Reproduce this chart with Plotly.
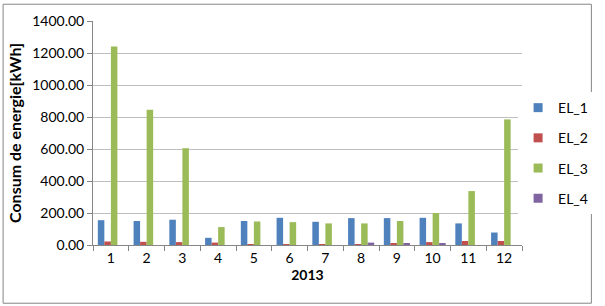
import plotly.graph_objects as go

months = [str(i) for i in range(1, 13)]
el_1 = [155, 150, 158, 45, 150, 170, 145, 168, 168, 170, 135, 78]
el_2 = [22, 20, 18, 15, 5, 5, 2, 3, 12, 18, 25, 25]
el_3 = [1240, 845, 605, 112, 147, 143, 135, 135, 150, 200, 337, 785]
el_4 = [0, 0, 0, 0, 0, 0, 0, 15, 10, 8, 0, 0]
series = [("EL_1", el_1, "#4F81BD"), ("EL_2", el_2, "#C0504D"),
          ("EL_3", el_3, "#9BBB59"), ("EL_4", el_4, "#8064A2")]
y_ticks = [0, 200, 400, 600, 800, 1000, 1200, 1400]

font = "Lato, Open Sans, sans-serif"
fig = go.Figure()
for name, vals, col in series:
    fig.add_trace(go.Bar(x=months, y=vals, name=name, marker_color=col,
                         marker_line_width=0, legendgroup=name, showlegend=False))
for name, vals, col in series:
    fig.add_trace(go.Scatter(x=[None], y=[None], mode="markers", name=name,
                             marker=dict(symbol="square", size=9, color=col),
                             legendgroup=name))

W, H = 605, 306
L, R, T, B = 93, 73, 18, 61
pw, ph = W - L - R, H - T - B
fig.update_layout(
    width=W, height=H, margin=dict(l=L, r=R, t=T, b=B),
    paper_bgcolor="white", plot_bgcolor="white",
    barmode="group", bargap=0.27, bargroupgap=0.0,
    font=dict(family=font, size=14, color="#000"),
    legend=dict(x=(528 - L) / pw, y=(H - B - 90) / ph, xanchor="left", yanchor="top",
                font=dict(size=14), tracegroupgap=9, itemwidth=30),
    xaxis=dict(type="category", tickson="boundaries", ticks="outside", ticklen=5,
               tickcolor="#868686", showline=True, linecolor="#868686",
               title=dict(text="<b>2013</b>", font=dict(size=14), standoff=2)),
    yaxis=dict(range=[0, 1400], tickvals=y_ticks, tickformat=".2f", ticks="outside",
               ticklen=5, tickcolor="#868686", showline=True, linecolor="#868686",
               showgrid=True, gridcolor="#BFBFBF", gridwidth=1, zeroline=False,
               title=dict(text="<b>Consum de energie[kWh]</b>", font=dict(size=16), standoff=6)),
)
fig.add_shape(type="rect", xref="paper", yref="paper",
              x0=(1 - L) / pw, x1=(W - 2 - L) / pw,
              y0=(H - B - (H - 2)) / ph, y1=(H - B - 1) / ph,
              line=dict(color="#868686", width=1))
fig.write_html("out.html")
